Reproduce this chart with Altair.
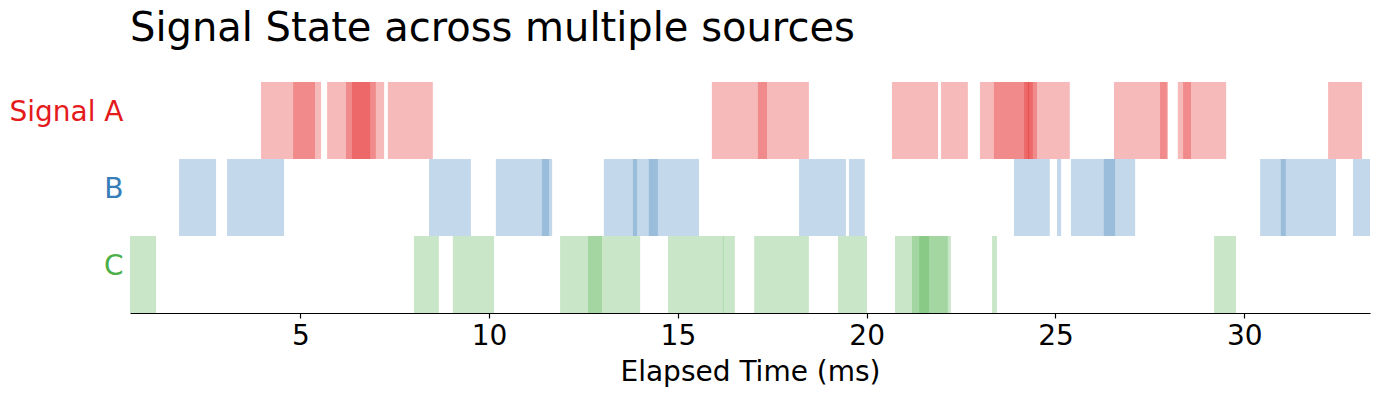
import altair as alt
import pandas as pd

signals = ["Signal A", "B", "C"]
colors = ["#e41a1c", "#377eb8", "#4daf4a"]

a_start = [3.96, 4.81, 5.71, 6.21, 6.37, 7.32, 15.90, 17.12, 20.67, 21.97,
           23.00, 23.37, 24.17, 24.27, 26.55, 27.77, 28.24, 28.38, 32.22]
a_end = [5.39, 5.55, 7.00, 7.22, 6.85, 8.51, 17.36, 18.47, 21.89, 22.68,
         24.40, 24.51, 25.38, 24.30, 27.95, 27.98, 28.59, 29.52, 33.12]

b_start = [1.79, 3.06, 8.41, 10.18, 11.40, 13.04, 13.81, 14.23, 18.21, 19.53,
           23.90, 25.04, 25.41, 26.28, 30.42, 30.97, 32.88]
b_end = [2.77, 4.57, 9.52, 11.59, 11.67, 13.92, 14.47, 15.56, 19.45, 19.95,
         24.85, 25.15, 26.58, 27.11, 31.10, 32.43, 33.33]

c_start = [0.49, 8.01, 9.04, 11.88, 12.62, 14.74, 16.19, 17.02, 19.24, 20.75,
           21.20, 21.39, 23.32, 29.20]
c_end = [1.18, 8.67, 10.13, 12.99, 14.00, 16.21, 16.51, 18.47, 20.01, 22.15,
         21.65, 22.23, 23.45, 29.78]

x_ticks = [5, 10, 15, 20, 25, 30]
x_domain = [0.49, 33.33]

rows = []
for name, starts, ends in zip(signals, [a_start, b_start, c_start], [a_end, b_end, c_end]):
    for s, e in zip(starts, ends):
        rows.append({"signal": name, "start": s, "end": e})
df = pd.DataFrame(rows)

label_color_expr = (
    f"datum.value == '{signals[0]}' ? '{colors[0]}' : "
    f"(datum.value == '{signals[1]}' ? '{colors[1]}' : '{colors[2]}')"
)

FONT = "DejaVu Sans"

chart = (
    alt.Chart(df)
    .mark_bar(opacity=0.3, strokeWidth=0)
    .encode(
        x=alt.X(
            "start:Q",
            scale=alt.Scale(domain=x_domain, nice=False, zero=False),
            axis=alt.Axis(
                values=x_ticks,
                title="Elapsed Time (ms)",
                grid=False,
                domainColor="black",
                domainWidth=1.2,
                tickColor="black",
                tickSize=5,
                tickWidth=1.2,
                labelFont=FONT,
                labelFontSize=28,
                labelColor="black",
                labelPadding=4,
                titleFont=FONT,
                titleFontSize=28,
                titleFontWeight="normal",
                titleColor="black",
                titlePadding=8,
            ),
        ),
        x2="end:Q",
        y=alt.Y(
            "signal:N",
            sort=signals,
            scale=alt.Scale(paddingInner=0, paddingOuter=0),
            axis=alt.Axis(
                title=None,
                domain=False,
                ticks=False,
                grid=False,
                labelFont=FONT,
                labelFontSize=28,
                labelColor=alt.ExprRef(label_color_expr),
                labelPadding=7,
                labelOffset=-8,
            ),
        ),
        color=alt.Color(
            "signal:N",
            scale=alt.Scale(domain=signals, range=colors),
            legend=None,
        ),
    )
    .properties(
        width=1240,
        height=231,
        title=alt.TitleParams(
            "Signal State across multiple sources",
            anchor="start",
            frame="group",
            font=FONT,
            fontSize=40,
            fontWeight="normal",
            color="black",
            baseline="alphabetic",
            offset=1,
        ),
        autosize=alt.AutoSizeParams(type="none"),
        padding={"left": 122, "top": 74, "right": 2, "bottom": 86},
    )
    .configure_view(stroke=None)
)

chart.save("out.html", embed_options={"renderer": "svg", "actions": False})
